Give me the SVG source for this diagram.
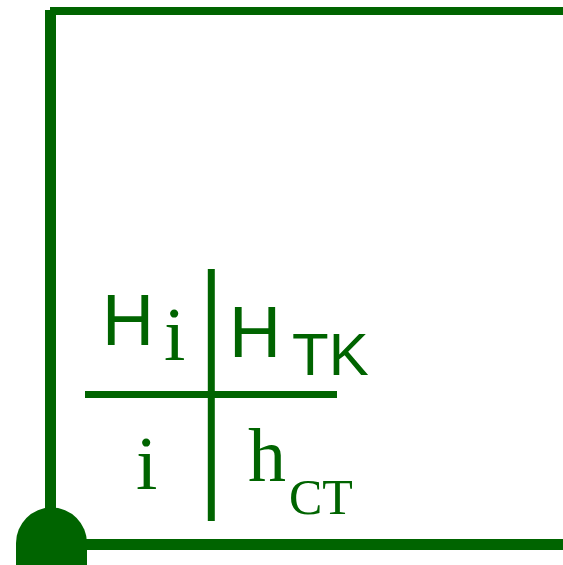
<svg xmlns="http://www.w3.org/2000/svg" width="563" height="565" viewBox="0 0 563 565">
<style>
.ln{stroke:#006400;fill:none}
.s{font-family:"Liberation Sans",Arial,sans-serif;fill:#006400}
.r{font-family:"Liberation Serif","Times New Roman",serif;fill:#006400}
</style>
<rect width="563" height="565" fill="#fff"/>
<g id="connectors">
<line class="ln" x1="50" y1="11" x2="563" y2="11" stroke-width="8"/>
<line class="ln" x1="50.5" y1="10" x2="50.5" y2="540" stroke-width="11"/>
<line class="ln" x1="80" y1="544.5" x2="563" y2="544.5" stroke-width="11"/>
<line class="ln" x1="211.3" y1="269" x2="211.3" y2="521" stroke-width="7"/>
<line class="ln" x1="85" y1="394.5" x2="337" y2="394.5" stroke-width="7"/>
</g>
<g id="node-dot">
<path d="M16,565 V543 A35.5,35.5 0 0 1 87,543 V565 Z" fill="#006400"/>
</g>
<g id="node-labels">
<text class="s" x="102" y="345" font-size="72">H</text>
<text class="r" x="164" y="360" font-size="77">i</text>
<text class="s" x="229" y="357" font-size="72">H</text>
<text class="s" x="292" y="375" font-size="60">TK</text>
<text class="r" x="136" y="489" font-size="77">i</text>
<text class="r" x="248" y="481" font-size="76">h</text>
<text class="r" x="289" y="514" font-size="50">CT</text>
</g>
</svg>
